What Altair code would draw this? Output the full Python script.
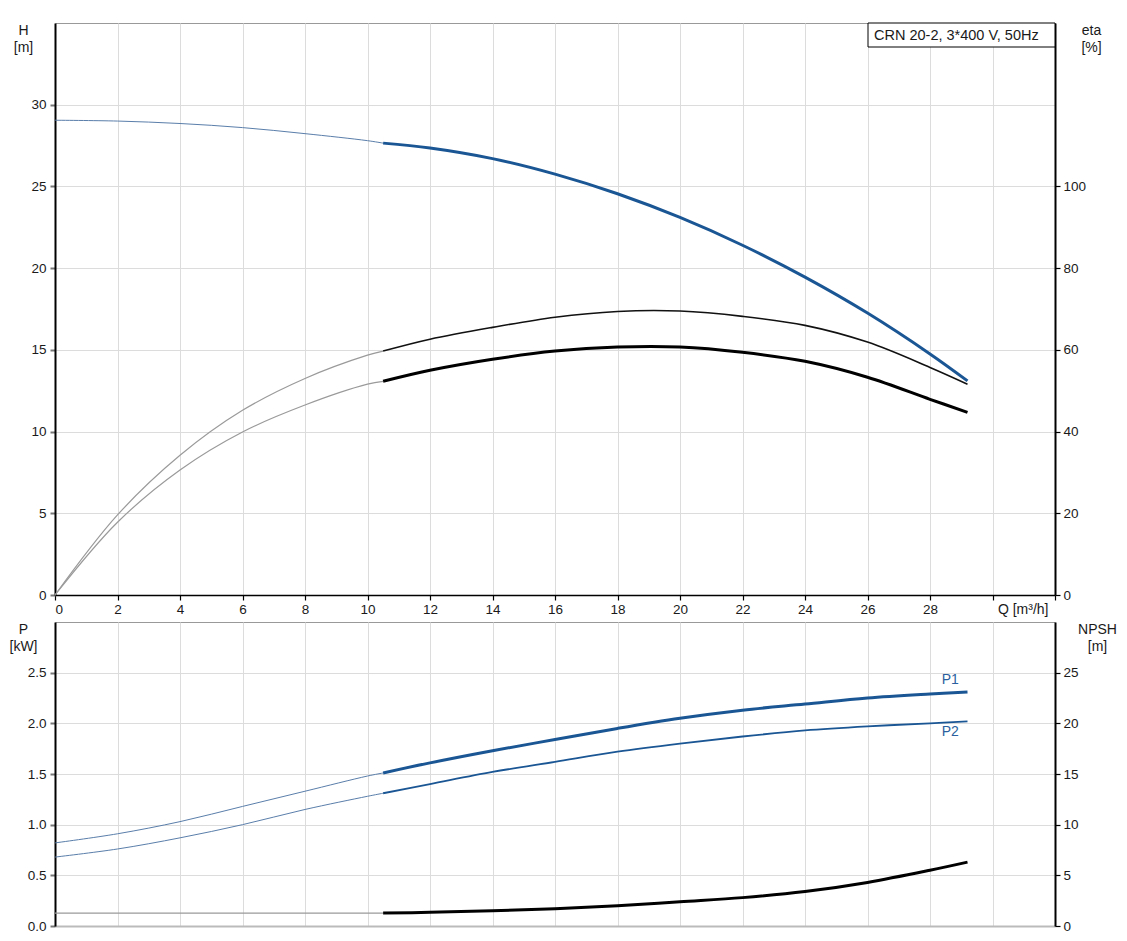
import altair as alt
import pandas as pd

# ---------------- data ----------------
Q = [0, 2, 4, 6, 8, 10, 10.5, 12, 14, 16, 18, 20, 22, 24, 26, 28, 29.2]
H = [29.05, 29.0, 28.85, 28.6, 28.23, 27.8, 27.65, 27.35, 26.7, 25.75, 24.55,
     23.1, 21.4, 19.45, 17.25, 14.75, 13.1]
ETA_A = [0, 19.6, 34.2, 45.2, 53.0, 58.7, 59.7, 62.6, 65.5, 68.0, 69.4, 69.5,
         68.2, 66.0, 61.9, 55.7, 51.6]
ETA_B = [0, 17.8, 30.6, 39.9, 46.5, 51.6, 52.3, 55.0, 57.7, 59.7, 60.7, 60.7,
         59.4, 57.2, 53.3, 47.9, 44.7]
P1 = [0.82, 0.91, 1.03, 1.18, 1.33, 1.48, 1.51, 1.61, 1.73, 1.84, 1.95, 2.05,
      2.13, 2.19, 2.25, 2.29, 2.31]
P2 = [0.68, 0.76, 0.87, 1.0, 1.15, 1.28, 1.31, 1.40, 1.52, 1.62, 1.72, 1.80,
      1.87, 1.93, 1.97, 2.0, 2.02]
NPSH = [1.28, 1.28, 1.28, 1.28, 1.28, 1.28, 1.28, 1.35, 1.5, 1.7, 2.0, 2.4,
        2.8, 3.4, 4.3, 5.5, 6.3]
SPLIT_Q = 10.5

X_TICKS = list(range(0, 33, 2))
H_TICKS = [0, 5, 10, 15, 20, 25, 30]
ETA_TICKS = [0, 20, 40, 60, 80, 100]
P_TICKS = [0, 0.5, 1.0, 1.5, 2.0, 2.5]
NPSH_TICKS = [0, 5, 10, 15, 20, 25]

LABEL_TEXT = ["P1", "P2"]
LABEL_Q = [28.65, 28.65]
LABEL_P = [2.43, 1.91]

TITLE_TEXT = "CRN 20-2, 3*400 V, 50Hz"

# ---------------- build table ----------------
rows = []
for name, vals in [("H", H), ("EA", ETA_A), ("EB", ETA_B), ("P1", P1),
                   ("P2", P2), ("N", NPSH)]:
    for q, v in zip(Q, vals):
        if q <= SPLIT_Q:
            rows.append(dict(Q=q, v=v, key=name + "_thin"))
        if q >= SPLIT_Q:
            rows.append(dict(Q=q, v=v, key=name + "_thick"))
df = pd.DataFrame(rows)
labels_df = pd.DataFrame({"Q": LABEL_Q, "v": LABEL_P, "t": LABEL_TEXT})

FONT = "Liberation Sans"
BLUE = "#1b5694"
THINBLUE = "#5a7eaa"
GRAY = "#9a9a9a"
TXT = "#1a1a1a"
LFS = 13.5   # tick labels
TFS = 14     # axis titles
BFS = 14.5   # title box

STYLE = {
    "H_thin": (THINBLUE, 1.0), "H_thick": (BLUE, 3.0),
    "EA_thin": (GRAY, 1.2), "EA_thick": ("#111111", 1.6),
    "EB_thin": (GRAY, 1.2), "EB_thick": ("#000000", 3.0),
    "P1_thin": (THINBLUE, 1.0), "P1_thick": (BLUE, 3.0),
    "P2_thin": (THINBLUE, 1.0), "P2_thick": (BLUE, 1.8),
    "N_thin": (GRAY, 1.2), "N_thick": ("#000000", 3.0),
}

XSCALE = alt.Scale(domain=[0, 32], nice=False, zero=False)


def xenc(top):
    if top:
        ax = alt.Axis(values=X_TICKS,
                      labelExpr="datum.value >= 30 ? '' : datum.label",
                      title="Q [m³/h]", titleAngle=0, titleAlign="right",
                      titleBaseline="top", titleX=993, titleY=7,
                      grid=True, gridColor="#dcdcdc", gridWidth=1,
                      domainColor="#000", domainWidth=1.5,
                      tickColor="#000", tickSize=5, tickWidth=1.2,
                      labelPadding=2)
    else:
        ax = alt.Axis(values=X_TICKS, labels=False, ticks=False, title=None,
                      grid=True, gridColor="#dcdcdc", gridWidth=1,
                      domainColor="#bbbbbb", domainWidth=2)
    return alt.X("Q:Q", scale=XSCALE, axis=ax)


def left_axis(values, title, fmt=None):
    kw = dict(values=values, orient="left", title=title, titleAngle=0,
              titleAlign="center", titleBaseline="top", titleX=-32, titleY=0,
              titleLineHeight=17, grid=True, gridColor="#dcdcdc",
              domainColor="#000", domainWidth=2, tickColor="#777",
              tickSize=5, tickWidth=2, labelPadding=4)
    if fmt:
        kw["format"] = fmt
    return alt.Axis(**kw)


def right_axis(values, title, tx):
    return alt.Axis(values=values, orient="right", title=title, titleAngle=0,
                    titleAlign="center", titleBaseline="top", titleX=tx,
                    titleY=0, titleLineHeight=17, grid=False,
                    domainColor="#000", domainWidth=2, tickColor="#000",
                    tickSize=5, tickWidth=1.2, labelPadding=3)


def line(key, top, yenc):
    c, w = STYLE[key]
    return alt.Chart(df).transform_filter(alt.datum.key == key).mark_line(
        color=c, strokeWidth=w, interpolate="catmull-rom"
    ).encode(x=xenc(top), y=yenc)


# ---------------- top panel ----------------
yH = alt.Y("v:Q", scale=alt.Scale(domain=[0, 35], nice=False),
           axis=left_axis(H_TICKS, ["H", "[m]"]))
yEta = alt.Y("v:Q", scale=alt.Scale(domain=[0, 140], nice=False),
             axis=right_axis(ETA_TICKS, ["eta", "[%]"], 36))

box = alt.Chart(pd.DataFrame({"t": [TITLE_TEXT]})).mark_rect(
    fill="white", stroke="#000", strokeWidth=1
).encode(x=alt.value(813), x2=alt.value(1000), y=alt.value(0), y2=alt.value(24))
box_text = alt.Chart(pd.DataFrame({"t": [TITLE_TEXT]})).mark_text(
    align="left", baseline="middle", font=FONT, fontSize=BFS, color=TXT
).encode(x=alt.value(819), y=alt.value(12.5), text="t:N")

top_h = alt.layer(line("H_thin", True, yH), line("H_thick", True, yH), box, box_text)
top_eta = alt.layer(line("EA_thin", True, yEta), line("EA_thick", True, yEta),
                    line("EB_thin", True, yEta), line("EB_thick", True, yEta))
top = alt.layer(top_h, top_eta).resolve_scale(y="independent").properties(
    width=1000, height=572)

# ---------------- bottom panel ----------------
yP = alt.Y("v:Q", scale=alt.Scale(domain=[0, 3], nice=False),
           axis=left_axis(P_TICKS, ["P", "[kW]"], ".1f"))
yN = alt.Y("v:Q", scale=alt.Scale(domain=[0, 30], nice=False),
           axis=right_axis(NPSH_TICKS, ["NPSH", "[m]"], 42))

p_labels = alt.Chart(labels_df).mark_text(
    font=FONT, fontSize=TFS, color="#2b5f9e", baseline="middle", align="center"
).encode(x=alt.X("Q:Q", scale=XSCALE), y=alt.Y("v:Q"), text="t:N")

bot_p = alt.layer(line("P1_thin", False, yP), line("P1_thick", False, yP),
                  line("P2_thin", False, yP), line("P2_thick", False, yP),
                  p_labels)
bot_n = alt.layer(line("N_thin", False, yN), line("N_thick", False, yN))
bottom = alt.layer(bot_p, bot_n).resolve_scale(y="independent").properties(
    width=1000, height=304)

chart = alt.vconcat(top, bottom, spacing=4).properties(
    padding={"left": 0, "top": 14, "right": 0, "bottom": 0},
    background="white",
).configure_view(stroke="#999999", strokeWidth=1).configure_axis(
    labelFont=FONT, labelFontSize=LFS, labelColor=TXT,
    titleFont=FONT, titleFontSize=TFS, titleFontWeight="normal", titleColor=TXT,
)

chart.save("out.html", embed_options={"renderer": "svg", "actions": False})
